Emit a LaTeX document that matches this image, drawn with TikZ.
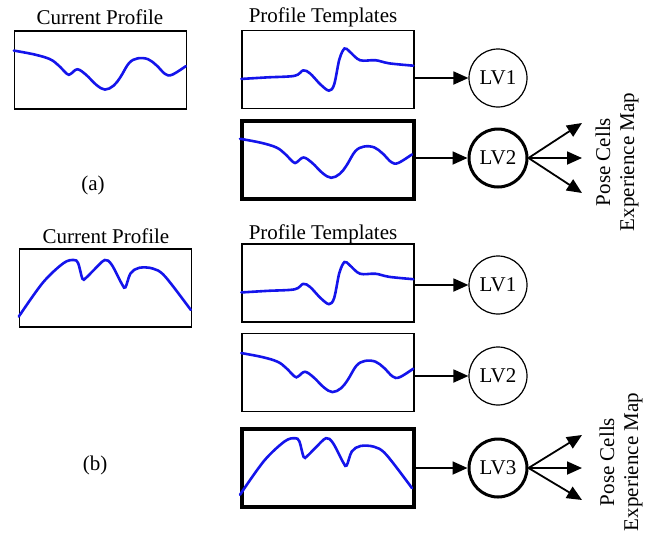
\documentclass[tikz,border=0pt]{standalone}
\usepackage{fontspec}
\setmainfont{Liberation Serif}
\usetikzlibrary{arrows.meta}

\definecolor{profblue}{RGB}{20,20,235}

\tikzset{
    box/.style={draw, line width=1.4pt, minimum width=172pt, minimum height=78pt, inner sep=0pt},
    bestbox/.style={box, line width=4pt},
    lv/.style={circle, draw, line width=1.2pt, minimum size=58pt, inner sep=0pt},
    bestlv/.style={lv, line width=3pt},
    arr/.style={line width=1.8pt, -{Triangle[length=15pt,width=13pt]}},
    prof/.style={profblue, line width=2.6pt, line cap=round},
    title/.style={font=\fontsize{21}{24}\selectfont},
    % the three profile shapes, drawn in a unit box (y downwards)
    profa/.pic={
        \draw[prof] plot[smooth, tension=0.6] coordinates {(0,0.26) (0.12,0.31) (0.21,0.37) (0.26,0.45) (0.31,0.56) (0.33,0.56) (0.37,0.50) (0.42,0.57) (0.48,0.70) (0.53,0.76) (0.58,0.71) (0.62,0.60) (0.67,0.42) (0.72,0.36) (0.78,0.37) (0.83,0.45) (0.88,0.56) (0.92,0.57) (1,0.46)};
    },
    profb/.pic={
        \draw[prof] plot[smooth, tension=0.55] coordinates {(0,0.63) (0.15,0.61) (0.31,0.59) (0.36,0.52) (0.40,0.56) (0.46,0.70) (0.51,0.78) (0.54,0.70) (0.57,0.38) (0.60,0.24) (0.63,0.28) (0.69,0.39) (0.78,0.39) (0.86,0.43) (1,0.46)};
    },
    profc/.pic={
        \draw[prof] plot[smooth, tension=0.55] coordinates {(0,0.875) (0.14,0.44) (0.26,0.19) (0.32,0.15) (0.345,0.19) (0.37,0.39) (0.39,0.38) (0.44,0.27) (0.50,0.15) (0.54,0.21) (0.60,0.46) (0.62,0.50) (0.65,0.32) (0.70,0.25) (0.78,0.26) (0.85,0.36) (1,0.79)};
    }
}

\begin{document}
\begin{tikzpicture}[x=1pt,y=-1pt]
        \useasboundingbox (0,0) rectangle (652,536);

        % (a)
        \node[title] (cura) at (100, 17) {Current Profile};
        \node[title] (tmpla) at (323, 17) {Profile Templates};
        \node[title] (capa) at (93, 185) {(a)};

        \node[box] (ca) at (100.5, 70) {};
        \node[box] (ta1) at (328, 69.5) {};
        \node[bestbox] (ta2) at (328, 159.5) {};

        \pic[xscale=172, yscale=78] at (ca.north west) {profa};
        \pic[xscale=172, yscale=78] at (ta1.north west) {profb};
        \pic[xscale=172, yscale=78] at (ta2.north west) {profa};

        \node[lv, title] (lva1) at (498, 78) {LV1};
        \node[bestlv, title] (lva2) at (498, 158) {LV2};

        \draw[arr] (ta1.east |- lva1) -- (lva1);
        \draw[arr] (ta2.east |- lva2) -- (lva2);

        \coordinate (oa1) at (582, 123);
        \coordinate (oa2) at (582, 158);
        \coordinate (oa3) at (582, 193);
        \draw[arr] (lva2.east) -- (oa1);
        \draw[arr] (lva2.east) -- (oa2);
        \draw[arr] (lva2.east) -- (oa3);
        \node[title, rotate=90, align=center] (outa) at (617, 162) {Pose Cells\\Experience Map};

        % (b)
        \node[title] (curb) at (106, 236) {Current Profile};
        \node[title] (tmplb) at (323, 234) {Profile Templates};
        \node[title] (capb) at (95, 465) {(b)};

        \node[box] (cb) at (105.5, 288) {};
        \node[box] (tb1) at (328, 283) {};
        \node[box] (tb2) at (328, 372.5) {};
        \node[bestbox] (tb3) at (328, 467.5) {};

        \pic[xscale=172, yscale=78] at (cb.north west) {profc};
        \pic[xscale=172, yscale=78] at (tb1.north west) {profb};
        \pic[xscale=172, yscale=78] at (tb2.north west) {profa};
        \pic[xscale=172, yscale=78] at (tb3.north west) {profc};

        \node[lv, title] (lvb1) at (498, 285) {LV1};
        \node[lv, title] (lvb2) at (498, 376) {LV2};
        \node[bestlv, title] (lvb3) at (498, 468) {LV3};

        \draw[arr] (tb1.east |- lvb1) -- (lvb1);
        \draw[arr] (tb2.east |- lvb2) -- (lvb2);
        \draw[arr] (tb3.east |- lvb3) -- (lvb3);

        \coordinate (ob1) at (582, 435);
        \coordinate (ob2) at (582, 468);
        \coordinate (ob3) at (582, 500);
        \draw[arr] (lvb3.east) -- (ob1);
        \draw[arr] (lvb3.east) -- (ob2);
        \draw[arr] (lvb3.east) -- (ob3);
        \node[title, rotate=90, align=center] (outb) at (621, 462) {Pose Cells\\Experience Map};

    \end{tikzpicture}
\end{document}
